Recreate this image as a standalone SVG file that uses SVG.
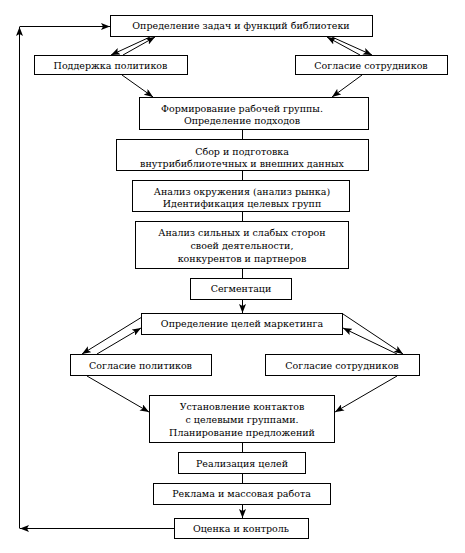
<svg xmlns="http://www.w3.org/2000/svg" width="465" height="553" viewBox="0 0 465 553">
<defs>
<marker id="ah" markerUnits="userSpaceOnUse" markerWidth="10" markerHeight="7" refX="9" refY="3.5" orient="auto">
<path d="M0,0 L9,3.5 L0,7 L2,3.5 z" fill="#000"/>
</marker>
<style>
rect{fill:#fff;stroke:#000;stroke-width:1}
text{font-size:9.5px;fill:#000;text-anchor:middle}
.c line{stroke:#000;stroke-width:1;fill:none}
.a{marker-end:url(#ah)}
</style>
</defs>
<rect x="0" y="0" width="465" height="553" style="fill:#fff;stroke:none"/>
<g class="c" id="connectors">
<line x1="242.5" y1="129.5" x2="242.5" y2="139.5"/>
<line x1="242.5" y1="170.5" x2="242.5" y2="180.5"/>
<line x1="242.5" y1="211.5" x2="242.5" y2="221.5"/>
<line x1="242.5" y1="268.5" x2="242.5" y2="278.5"/>
<line class="a" x1="242.5" y1="299.5" x2="242.5" y2="313"/>
<line x1="242.5" y1="442.5" x2="242.5" y2="452.5"/>
<line x1="242.5" y1="473.5" x2="242.5" y2="483.5"/>
<line class="a" x1="242.5" y1="504.5" x2="242.5" y2="518"/>
<line class="a" x1="150" y1="37" x2="111" y2="55"/>
<line class="a" x1="123" y1="55" x2="155" y2="37"/>
<line class="a" x1="360" y1="55" x2="327" y2="37"/>
<line class="a" x1="332" y1="37" x2="372" y2="55"/>
<line class="a" x1="122" y1="75" x2="153" y2="97"/>
<line class="a" x1="362" y1="75" x2="332" y2="97"/>
<line class="a" x1="142" y1="317" x2="82" y2="354"/>
<line class="a" x1="97" y1="354" x2="141" y2="328"/>
<line class="a" x1="343" y1="314" x2="403" y2="354"/>
<line class="a" x1="397" y1="354" x2="343" y2="328"/>
<line class="a" x1="87" y1="376" x2="149" y2="412"/>
<line class="a" x1="397" y1="376" x2="335" y2="412"/>
<line class="a" x1="174" y1="528.5" x2="20" y2="528.5"/>
<line class="a" x1="19.5" y1="528.5" x2="19.5" y2="27"/>
<line class="a" x1="19.5" y1="26.5" x2="110" y2="26.5"/>
</g>
<g font-family="'DejaVu Serif', serif">
<g id="n1"><rect x="110.5" y="15.5" width="262" height="21"/><text x="241" y="29">Определение задач и функций библиотеки</text></g>
<g id="n2"><rect x="34.5" y="55.5" width="153" height="19"/><text x="110.5" y="69">Поддержка политиков</text></g>
<g id="n3"><rect x="295.5" y="55.5" width="152" height="19"/><text x="371" y="69">Согласие сотрудников</text></g>
<g id="n4"><rect x="139.5" y="97.5" width="229" height="32"/><text x="242" y="112">Формирование рабочей группы.</text><text x="242" y="124">Определение подходов</text></g>
<g id="n5"><rect x="116.5" y="139.5" width="252" height="31"/><text x="242" y="155">Сбор и подготовка</text><text x="242" y="167">внутрибиблиотечных и внешних данных</text></g>
<g id="n6"><rect x="132.5" y="180.5" width="217" height="31"/><text x="242" y="195">Анализ окружения (анализ рынка)</text><text x="242" y="207">Идентификация целевых групп</text></g>
<g id="n7"><rect x="135.5" y="221.5" width="213" height="47"/><text x="242" y="236">Анализ сильных и слабых сторон</text><text x="242" y="249">своей деятельности,</text><text x="242" y="262">конкурентов и партнеров</text></g>
<g id="n8"><rect x="190.5" y="278.5" width="101" height="21"/><text x="241" y="292">Сегментаци</text></g>
<g id="n9"><rect x="141.5" y="313.5" width="201" height="21"/><text x="242" y="327">Определение целей маркетинга</text></g>
<g id="n10"><rect x="70.5" y="354.5" width="141" height="21"/><text x="140.5" y="369">Согласие политиков</text></g>
<g id="n11"><rect x="265.5" y="354.5" width="154" height="21"/><text x="342" y="369">Согласие сотрудников</text></g>
<g id="n12"><rect x="149.5" y="395.5" width="185" height="47"/><text x="242" y="410">Установление контактов</text><text x="242" y="423">с целевыми группами.</text><text x="242" y="436">Планирование предложений</text></g>
<g id="n13"><rect x="178.5" y="452.5" width="127" height="21"/><text x="242" y="467">Реализация целей</text></g>
<g id="n14"><rect x="153.5" y="483.5" width="177" height="21"/><text x="241.5" y="497">Реклама и массовая работа</text></g>
<g id="n15"><rect x="174.5" y="518.5" width="134" height="20"/><text x="241" y="532">Оценка и контроль</text></g>
</g>
</svg>
